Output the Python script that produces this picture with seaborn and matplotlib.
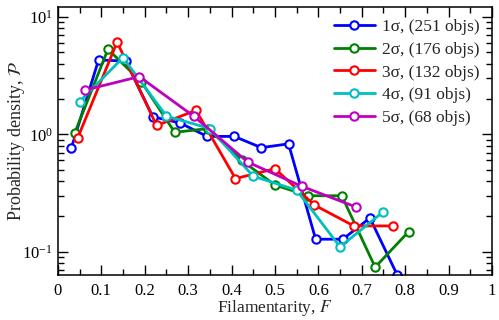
import numpy as np
import pandas as pd
import seaborn as sns
import matplotlib
matplotlib.use("Agg")
import matplotlib.pyplot as plt
from matplotlib.ticker import MultipleLocator, LogLocator, NullFormatter

# Filamentarity PDFs for each threshold level
f_1s = [0.03125, 0.09375, 0.15625, 0.21875, 0.28125, 0.34375, 0.40625,
        0.46875, 0.53125, 0.59375, 0.65625, 0.71875, 0.78125]
p_1s = [0.77, 4.3, 4.2, 1.41, 1.25, 0.96, 0.96, 0.77, 0.83, 0.128, 0.128, 0.194, 0.064]

f_2s = [0.0385, 0.1154, 0.1923, 0.2692, 0.3462, 0.4231, 0.5, 0.5769,
        0.6538, 0.7308, 0.8077]
p_2s = [1.02, 5.3, 2.8, 1.04, 1.12, 0.60, 0.37, 0.30, 0.30, 0.074, 0.148]

f_3s = [0.0455, 0.1364, 0.2273, 0.3182, 0.4091, 0.5, 0.5909, 0.6818, 0.7727]
p_3s = [0.93, 6.1, 1.19, 1.6, 0.42, 0.51, 0.25, 0.166, 0.166]

f_4s = [0.05, 0.15, 0.25, 0.35, 0.45, 0.55, 0.65, 0.75]
p_4s = [1.9, 4.5, 1.43, 1.12, 0.44, 0.335, 0.11, 0.22]

f_5s = [0.0625, 0.1875, 0.3125, 0.4375, 0.5625, 0.6875]
p_5s = [2.38, 3.1, 1.43, 0.58, 0.36, 0.24]

labels = ["1σ, (251 objs)", "2σ, (176 objs)", "3σ, (132 objs)",
          "4σ, (91 objs)", "5σ, (68 objs)"]
colors = ["#0000ff", "#008000", "#ff0000", "#00bfbf", "#bf00bf"]
xticklabels = ["0", "0.1", "0.2", "0.3", "0.4", "0.5", "0.6", "0.7", "0.8", "0.9", "1"]

series = [(f_1s, p_1s), (f_2s, p_2s), (f_3s, p_3s), (f_4s, p_4s), (f_5s, p_5s)]

sns.set_style("ticks")
plt.rcParams["font.family"] = "serif"
plt.rcParams["font.serif"] = ["Liberation Serif", "DejaVu Serif"]
plt.rcParams["mathtext.fontset"] = "stix"

fig = plt.figure(figsize=(4.99, 3.2), dpi=100)
ax = fig.add_axes([0.116, 0.141, 0.870, 0.838])

for (f, p), lab, c in zip(series, labels, colors):
    d = pd.DataFrame({"F": f, "P": p})
    sns.lineplot(data=d, x="F", y="P", ax=ax, color=c, lw=2, marker="o",
                 ms=6, mfc="white", mec=c, mew=1.5, sort=False, label=lab)

ax.set_yscale("log")
ax.set_xlim(0, 1)
ax.set_ylim(0.0636, 12.2)

ax.set_xticks(np.arange(0, 1.01, 0.1))
ax.set_xticklabels(xticklabels)
ax.xaxis.set_minor_locator(MultipleLocator(0.05))
ax.yaxis.set_major_locator(LogLocator(base=10))
ax.yaxis.set_minor_locator(LogLocator(base=10, subs=np.arange(2, 10)))
ax.yaxis.set_minor_formatter(NullFormatter())

ax.tick_params(which="both", direction="in", top=True, right=True,
               labelsize=12, width=1, colors="black")
ax.tick_params(which="major", length=7)
ax.tick_params(which="minor", length=4)
ax.tick_params(axis="x", pad=6)
for s in ax.spines.values():
    s.set_linewidth(1.1)
    s.set_color("black")

ax.set_xlabel("Filamentarity, $F$", fontsize=12.5, labelpad=-1)
ax.set_ylabel(r"Probability density, $\mathcal{P}$", fontsize=13, labelpad=-3)

ax.legend(loc="upper right", frameon=False, fontsize=12.5, handlelength=2.4,
          handletextpad=0.4, labelspacing=0.38, borderaxespad=0.3)

fig.savefig("out.png", dpi=100)
